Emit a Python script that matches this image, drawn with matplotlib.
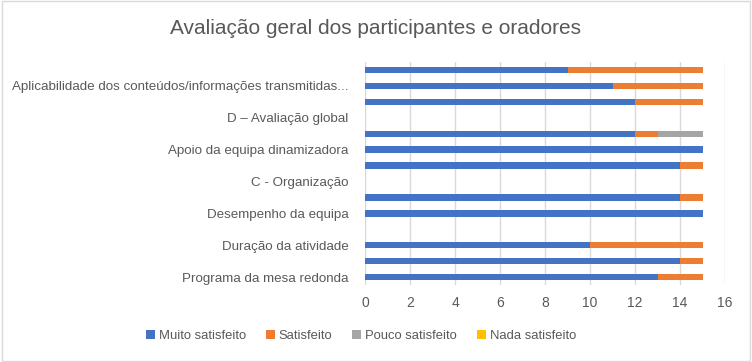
import matplotlib
matplotlib.use("Agg")
import matplotlib.pyplot as plt
from matplotlib.patches import Rectangle
import numpy as np

plt.rcParams['font.family'] = ['Liberation Sans', 'DejaVu Sans']

# categories from bottom to top (Excel only shows every other label)
categories = [
    "Programa da mesa redonda",
    "",
    "Duração da atividade",
    "",
    "Desempenho da equipa",
    "",
    "C - Organização",
    "",
    "Apoio da equipa dinamizadora",
    "",
    "D – Avaliação global",
    "",
    "Aplicabilidade dos conteúdos/informações transmitidas...",
    "",
]

muito = [13, 14, 10, 0, 15, 14, 0, 14, 15, 12, 0, 12, 11, 9]
satisfeito = [2, 1, 5, 0, 0, 1, 0, 1, 0, 1, 0, 3, 4, 6]
pouco = [0, 0, 0, 0, 0, 0, 0, 0, 0, 2, 0, 0, 0, 0]
nada = [0, 0, 0, 0, 0, 0, 0, 0, 0, 0, 0, 0, 0, 0]

series = ["Muito satisfeito", "Satisfeito", "Pouco satisfeito", "Nada satisfeito"]
colors = ["#4472C4", "#ED7D31", "#A5A5A5", "#FFC000"]

txt = "#595959"

fig = plt.figure(figsize=(7.52, 3.62), dpi=100)
ax = fig.add_axes([0.4854, 0.2127, 0.4787, 0.616])

y = np.arange(len(categories))
left = np.zeros(len(categories))
for vals, name, col in zip([muito, satisfeito, pouco, nada], series, colors):
    ax.barh(y, vals, left=left, height=0.4, color=col, label=name, zorder=3)
    left += np.array(vals)

ax.set_xlim(0, 16)
ax.set_ylim(-0.5, len(categories) - 0.5)
ax.set_xticks(range(0, 17, 2))
ax.set_yticks(y)
ax.set_yticklabels(categories)
ax.tick_params(axis='both', length=0, labelsize=9.6, colors=txt)
ax.tick_params(axis='y', pad=12)
ax.tick_params(axis='x', pad=8, labelsize=10)
ax.grid(axis='x', color="#D9D9D9", linewidth=1, zorder=0)
for s in ax.spines.values():
    s.set_visible(False)

fig.text(0.5, 0.922, "Avaliação geral dos participantes e oradores",
         ha='center', va='center', fontsize=15, color=txt)

handles, labels = ax.get_legend_handles_labels()
fig.legend(handles, labels, loc='center', bbox_to_anchor=(0.48, 0.072), ncol=4,
           frameon=False, fontsize=9.4, handlelength=0.7, handleheight=0.7,
           handletextpad=0.3, columnspacing=1.5, labelcolor=txt)

fig.patches.append(Rectangle((0.002, 0.003), 0.995, 0.993, transform=fig.transFigure,
                             fill=False, edgecolor="#D9D9D9", linewidth=1))

fig.savefig("out.png", dpi=100)
